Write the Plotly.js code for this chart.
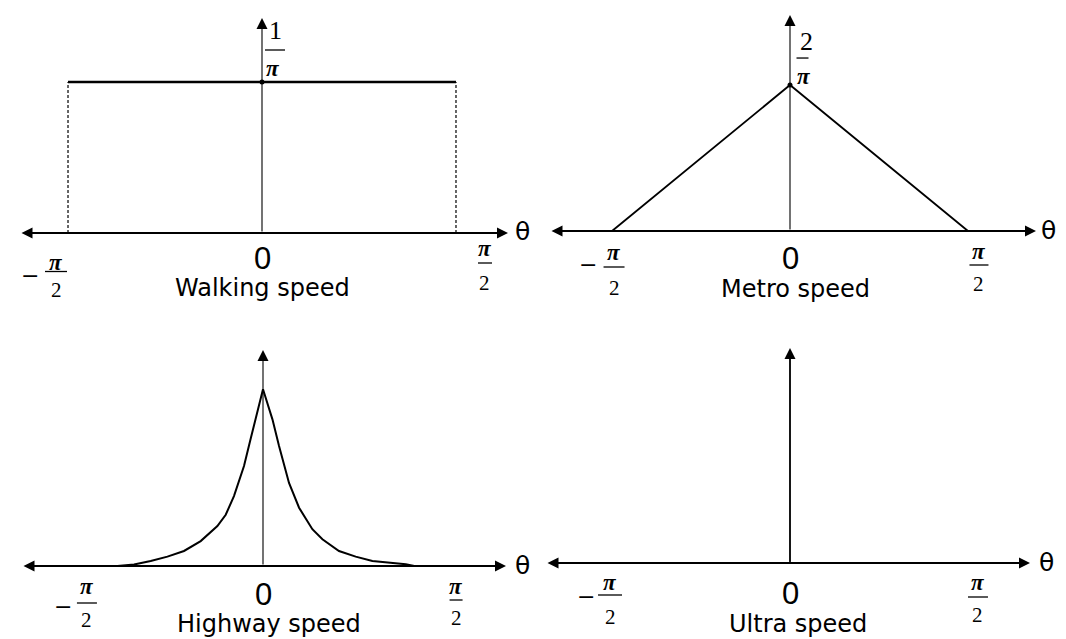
<!DOCTYPE html>
<html><head><meta charset="utf-8">
<script src="https://cdn.plot.ly/plotly-3.0.1.min.js"></script>
<style>html,body{margin:0;padding:0;background:#fff}#chart{width:1066px;height:639px}</style>
</head><body><div id="chart"></div>
<script>
// ---------------- data ----------------
const panelNames = ["Walking speed", "Metro speed", "Highway speed", "Ultra speed"];
const tickValues = [-1.5708, 0, 1.5708];          // -π/2, 0, π/2 (radians)
const tickNumerator = "π";
const tickDenominator = "2";
const zeroLabel = "0";
const axisLabel = "θ";

// Walking speed: uniform density 1/π on [-π/2, π/2]
const walkTheta = [-1.5708, 1.5708];
const walkDensity = [0.3183, 0.3183];
const walkPeakLabel = ["1", "π"];

// Metro speed: triangular density, peak 2/π
const metroTheta = [-1.5708, 0, 1.5708];
const metroDensity = [0, 0.6366, 0];
const metroPeakLabel = ["2", "π"];

// Highway speed: sharply peaked density (relative height)
const highwayTheta = [-1.203, -1.066, -0.928, -0.790, -0.653, -0.515, -0.377, -0.308, -0.240, -0.157, -0.102, -0.046, 0,
                      0.078, 0.132, 0.215, 0.298, 0.408, 0.491, 0.628, 0.766, 0.904, 1.097, 1.180, 1.250];
const highwayDensity = [0, 0.009, 0.028, 0.053, 0.085, 0.141, 0.226, 0.290, 0.396, 0.566, 0.720, 0.868, 1.0,
                        0.830, 0.680, 0.470, 0.330, 0.208, 0.151, 0.085, 0.053, 0.028, 0.015, 0.010, 0];

// Ultra speed: spike at θ = 0
const ultraTheta = [0, 0];
const ultraDensity = [0, 1.0];

// ---------------- layout config (pixels) ----------------
const W = 1066, H = 639;
const INK = "#000";
const panels = [
  {cx:262, axisY:233, sx:123.5, sy:474.4, left:20,  right:508,  top:18,  bottom:300,
   L:{mDx:-38, mDy:42, dx:-12, nDy:29.5, bDy:38.5, bH:11, dDy:57},
   R:{dx:29, nDy:16, bDy:30, bH:7, dDy:50}, zeroDy:25, capDx:0.5, capDy:55, thDx:14},
  {cx:790, axisY:231, sx:113.3, sy:229.3, left:550, right:1036, top:15,  bottom:300,
   L:{mDx:-24, mDy:33, dx:2, nDy:21, bDy:36, bH:10.5, dDy:57},
   R:{dx:11, nDy:20, bDy:34, bH:9.5, dDy:53}, zeroDy:27, capDx:5, capDy:58, thDx:12},
  {cx:263, axisY:566, sx:121, sy:176.7, left:22, right:506, top:350, bottom:639,
   L:{mDx:-10, mDy:40, dx:14, nDy:20, bDy:37, bH:10, dDy:54},
   R:{dx:3, nDy:20, bDy:34, bH:6.5, dDy:52}, zeroDy:28, capDx:6, capDy:58, thDx:16},
  {cx:790, axisY:563, sx:113.3, sy:210, left:546, right:1030, top:348, bottom:639,
   L:{mDx:-26.5, mDy:33, dx:-2, nDy:19, bDy:32, bH:12, dDy:54},
   R:{dx:10, nDy:19, bDy:34, bH:10, dDy:52}, zeroDy:30, capDx:8, capDy:61, thDx:16}
];

const layout = {
  width: W, height: H, autosize: false,
  margin: {l:0, r:0, t:0, b:0, pad:0},
  paper_bgcolor: "#fff", plot_bgcolor: "rgba(0,0,0,0)",
  showlegend: false, annotations: [], shapes: []
};
const refs = [];
panels.forEach((p, i) => {
  const s = i ? String(i + 1) : "";
  const xr = [(p.left - p.cx) / p.sx, (p.right - p.cx) / p.sx];
  const yr = [(p.axisY - p.bottom) / p.sy, (p.axisY - p.top) / p.sy];
  layout["xaxis" + s] = {domain:[p.left / W, p.right / W], range:xr, visible:false, fixedrange:true, anchor:"y" + s};
  layout["yaxis" + s] = {domain:[1 - p.bottom / H, 1 - p.top / H], range:yr, visible:false, fixedrange:true, anchor:"x" + s};
  refs.push({x:"x" + s, y:"y" + s, xr, yr});
});

const A = layout.annotations, S = layout.shapes;
function txt(r, x, y, text, dx, dy, font) {
  A.push({xref:r.x, yref:r.y, x, y, text, showarrow:false, xshift:dx, yshift:dy,
          xanchor:"center", yanchor:"middle", font:Object.assign({color:INK}, font)});
}
function bar(r, x, y, dx, dy, half) {
  S.push({type:"line", xref:r.x, yref:r.y, xsizemode:"pixel", xanchor:x, x0:dx - half, x1:dx + half,
          ysizemode:"pixel", yanchor:y, y0:dy, y1:dy, line:{color:INK, width:1.3}});
}
const piFont = {family:"Liberation Serif", size:23};
const denFont = {family:"Liberation Serif", size:21};
const PI = s => "<b><i>" + s + "</i></b>";

panels.forEach((p, i) => {
  const r = refs[i];
  // horizontal axis (double arrow) and vertical axis (arrow up)
  A.push({xref:r.x, yref:r.y, axref:r.x, ayref:r.y, x:r.xr[1], y:0, ax:r.xr[0], ay:0, text:"",
          showarrow:true, arrowside:"end+start", arrowhead:2, startarrowhead:2, arrowsize:1, startarrowsize:1,
          arrowwidth:2.2, arrowcolor:INK, standoff:0, startstandoff:0});
  A.push({xref:r.x, yref:r.y, axref:r.x, ayref:r.y, x:0, y:r.yr[1], ax:0, ay:0, text:"",
          showarrow:true, arrowside:"end", arrowhead:2, arrowsize:2, arrowwidth:1.1, arrowcolor:INK, standoff:0});
  // tick labels
  const lo = tickValues[0], hi = tickValues[2];
  txt(r, lo, 0, "−", p.L.mDx, -p.L.mDy, {family:"DejaVu Sans", size:22});
  txt(r, lo, 0, PI(tickNumerator), p.L.dx, -p.L.nDy, piFont);
  bar(r, lo, 0, p.L.dx, -p.L.bDy, p.L.bH);
  txt(r, lo, 0, tickDenominator, p.L.dx, -p.L.dDy, denFont);
  txt(r, hi, 0, PI(tickNumerator), p.R.dx, -p.R.nDy, piFont);
  bar(r, hi, 0, p.R.dx, -p.R.bDy, p.R.bH);
  txt(r, hi, 0, tickDenominator, p.R.dx, -p.R.dDy, denFont);
  txt(r, tickValues[1], 0, zeroLabel, 0, -p.zeroDy, {family:"Liberation Sans", size:31});
  txt(r, tickValues[1], 0, panelNames[i], p.capDx, -p.capDy, {family:"DejaVu Sans", size:24});
  txt(r, r.xr[1], 0, axisLabel, p.thDx, 1, {family:"DejaVu Sans", size:25});
});

// peak labels 1/π and 2/π
const peakFontN = {family:"Liberation Serif", size:26};
txt(refs[0], 0, walkDensity[0], walkPeakLabel[0], 13, 51, peakFontN);
bar(refs[0], 0, walkDensity[0], 13, 32, 10);
txt(refs[0], 0, walkDensity[0], PI(walkPeakLabel[1]), 11, 13, piFont);
txt(refs[1], 0, metroDensity[1], metroPeakLabel[0], 16, 44, peakFontN);
bar(refs[1], 0, metroDensity[1], 12.5, 27, 6);
txt(refs[1], 0, metroDensity[1], PI(metroPeakLabel[1]), 14, 9, piFont);

// ---------------- traces ----------------
const traces = [
  {x:walkTheta, y:walkDensity, xaxis:"x", yaxis:"y", mode:"lines", line:{color:INK, width:2.4}},
  {x:[walkTheta[0], walkTheta[0], null, walkTheta[1], walkTheta[1]],
   y:[0, walkDensity[0], null, 0, walkDensity[1]], xaxis:"x", yaxis:"y", mode:"lines",
   line:{color:INK, width:1.2, dash:"3px,2px"}},
  {x:[0], y:[walkDensity[0]], xaxis:"x", yaxis:"y", mode:"markers", marker:{color:INK, size:5}},
  {x:metroTheta, y:metroDensity, xaxis:"x2", yaxis:"y2", mode:"lines", line:{color:INK, width:1.8}},
  {x:[0], y:[metroDensity[1]], xaxis:"x2", yaxis:"y2", mode:"markers", marker:{color:INK, size:5}},
  {x:highwayTheta, y:highwayDensity, xaxis:"x3", yaxis:"y3", mode:"lines", line:{color:INK, width:2}},
  {x:ultraTheta, y:ultraDensity, xaxis:"x4", yaxis:"y4", mode:"lines", line:{color:INK, width:1.6}}
];

Plotly.newPlot("chart", traces, layout, {staticPlot:true, displayModeBar:false});
</script>
</body></html>
